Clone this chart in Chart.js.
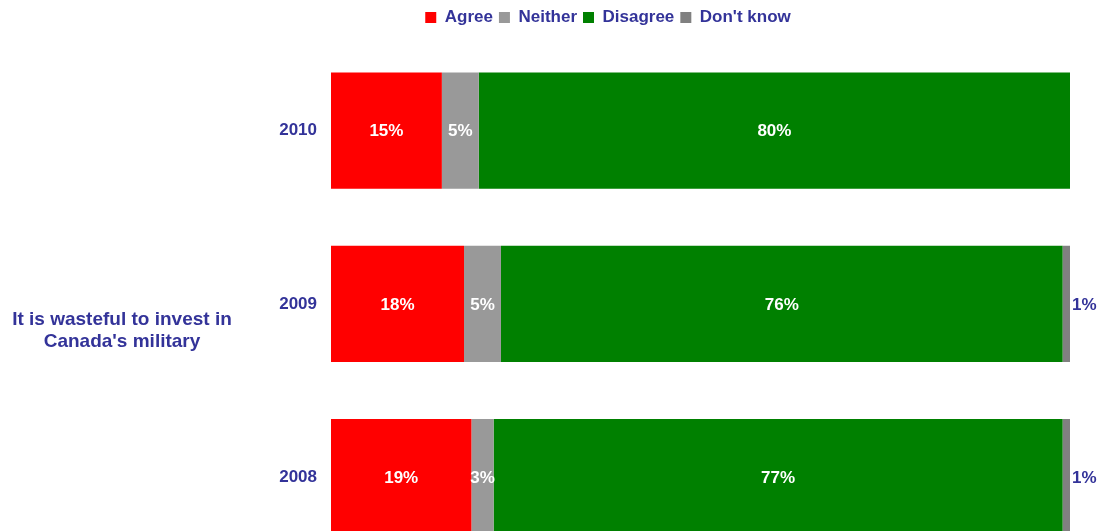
<!DOCTYPE html>
<html>
<head>
<meta charset="utf-8">
<script src="https://cdn.jsdelivr.net/npm/chart.js@4/dist/chart.umd.min.js"></script>
<style>
  html, body { margin: 0; padding: 0; background: #fff; overflow: hidden; }
  #wrap { width: 1103px; height: 531px; overflow: hidden; }
  #box { position: relative; width: 1103px; height: 580px; }
</style>
</head>
<body>
<div id="wrap"><div id="box"><canvas id="myChart"></canvas></div></div>
<script>
const years = ['2010', '2009', '2008'];
const agree = [15, 18, 19];
const neither = [5, 5, 3];
const disagree = [80, 76, 77];
const dontKnow = [0, 1, 1];
const question = ["It is wasteful to invest in", "Canada's military"];

const navy = '#333399';
const fontFamily = 'Arial, "Liberation Sans", sans-serif';

// values inside the segments, small "Don't know" shares go outside the bar
const valueLabels = {
    id: 'valueLabels',
    afterDatasetsDraw(chart) {
        const ctx = chart.ctx;
        ctx.save();
        ctx.font = 'bold 17px ' + fontFamily;
        ctx.textBaseline = 'middle';
        chart.data.datasets.forEach((ds, i) => {
            const meta = chart.getDatasetMeta(i);
            meta.data.forEach((bar, j) => {
                const v = ds.data[j];
                if (!v) return;
                if (i === 3) {
                    ctx.fillStyle = navy;
                    ctx.textAlign = 'left';
                    ctx.fillText(v + '%', bar.x + 2, bar.y + 1);
                } else {
                    ctx.fillStyle = '#ffffff';
                    ctx.textAlign = 'center';
                    ctx.fillText(v + '%', (bar.x + bar.base) / 2, bar.y + 1);
                }
            });
        });
        ctx.restore();
    }
};

// question text on the left side
const questionLabel = {
    id: 'questionLabel',
    afterDraw(chart) {
        const ctx = chart.ctx;
        ctx.save();
        ctx.font = 'bold 19px ' + fontFamily;
        ctx.fillStyle = navy;
        ctx.textAlign = 'center';
        ctx.textBaseline = 'middle';
        ctx.fillText(question[0], 122, 320);
        ctx.fillText(question[1], 122, 342);
        ctx.restore();
    }
};

// legend sits over the bars rather than the whole canvas
const legendShift = {
    id: 'legendShift',
    afterLayout(chart) {
        const lg = chart.legend;
        lg.left += 73;
        lg.right += 73;
        lg.top -= 8;
        lg.bottom -= 8;
    }
};

const ctx = document.getElementById('myChart').getContext('2d');
const myChart = new Chart(ctx, {
    type: 'bar',
    data: {
        labels: years,
        datasets: [
            { label: 'Agree', data: agree, backgroundColor: '#ff0000' },
            { label: 'Neither', data: neither, backgroundColor: '#999999' },
            { label: 'Disagree', data: disagree, backgroundColor: '#008000' },
            { label: "Don't know", data: dontKnow, backgroundColor: '#808080' }
        ]
    },
    options: {
        indexAxis: 'y',
        responsive: true,
        maintainAspectRatio: false,
        animation: false,
        datasets: {
            bar: { categoryPercentage: 1, barPercentage: 0.671, borderWidth: 0 }
        },
        layout: { padding: { top: 11, right: 33, bottom: 0, left: 0 } },
        scales: {
            x: {
                stacked: true,
                min: 0,
                max: 100,
                display: false
            },
            y: {
                stacked: true,
                grid: { display: false },
                border: { display: false },
                ticks: {
                    color: navy,
                    padding: 6,
                    font: { family: fontFamily, size: 17, weight: 'bold' }
                },
                afterFit(scale) { scale.width = 331; }
            }
        },
        plugins: {
            legend: {
                position: 'top',
                labels: {
                    boxWidth: 11,
                    boxHeight: 11,
                    padding: 6,
                    color: navy,
                    font: { family: fontFamily, size: 17, weight: 'bold' }
                }
            },
            tooltip: { enabled: false }
        }
    },
    plugins: [valueLabels, questionLabel, legendShift]
});
</script>
</body>
</html>
